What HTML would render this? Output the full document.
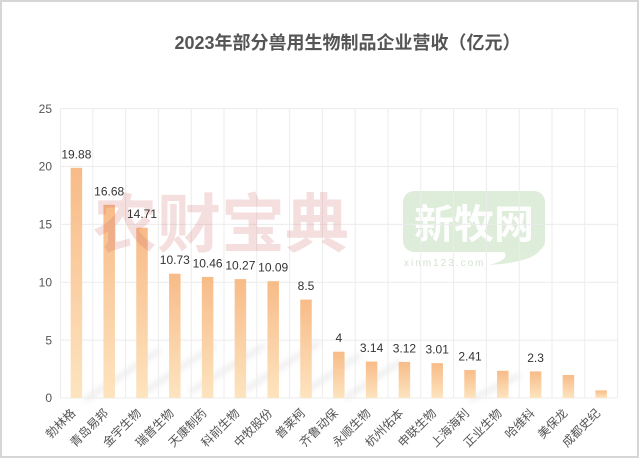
<!DOCTYPE html>
<html>
<head>
<meta charset="utf-8">
<style>
  html,body{margin:0;padding:0;background:#fff;}
  svg{display:block;}
  .cjk{font-family:"Liberation Sans","Noto Sans CJK SC",sans-serif;}
</style>
</head>
<body>
<svg width="640" height="459" viewBox="0 0 640 459" xmlns="http://www.w3.org/2000/svg">
  <defs>
    <linearGradient id="bar" x1="0" y1="0" x2="0" y2="1">
      <stop offset="0" stop-color="#f8bb88"/>
      <stop offset="1" stop-color="#fde4bf"/>
    </linearGradient>
    <filter id="blur" x="-20%" y="-20%" width="140%" height="140%">
      <feGaussianBlur stdDeviation="3"/>
    </filter>
  </defs>
  <rect x="0" y="0" width="640" height="459" fill="#fff"/>
  <rect x="1" y="1" width="637" height="456" fill="none" stroke="#d6d6d6" stroke-width="2"/>

  <!-- title -->
  <text x="347.5" y="49" text-anchor="middle" class="cjk" font-size="18" font-weight="bold" fill="#555">2023年部分兽用生物制品企业营收（亿元）</text>

  <!-- green watermark -->
  <g opacity="0.6">
    <rect x="403" y="191" width="142" height="61" rx="11" fill="#c9e2c2"/>
    <path d="M503,251 L541,248 Q536,262 489,265 Q512,259 503,251 Z" fill="#c9e2c2"/>
  </g>
  <text x="414" y="238" class="cjk" font-size="40" font-weight="bold" fill="#ffffff" opacity="0.95">新牧网</text>
  <text x="404" y="266" font-family="Liberation Sans, sans-serif" font-size="10" letter-spacing="2" fill="#d5e3d2">xinm123.com</text>

  <!-- diagonal shadows -->
  <g stroke="#9a9a9a" stroke-width="5" opacity="0.18" filter="url(#blur)">
    <line x1="85" y1="400" x2="160" y2="350"/>
    <line x1="140" y1="395" x2="215" y2="345"/>
    <line x1="190" y1="392" x2="265" y2="345"/>
    <line x1="245" y1="390" x2="320" y2="342"/>
    <line x1="300" y1="395" x2="360" y2="355"/>
    <line x1="345" y1="398" x2="400" y2="362"/>
    <line x1="470" y1="400" x2="520" y2="375"/>
  </g>

  <!-- gridlines -->
  <g stroke="#ececec" stroke-width="1">
    <line x1="60" y1="108.6" x2="617.6" y2="108.6"/>
    <line x1="60" y1="166.5" x2="617.6" y2="166.5"/>
    <line x1="60" y1="224.4" x2="617.6" y2="224.4"/>
    <line x1="60" y1="282.2" x2="617.6" y2="282.2"/>
    <line x1="60" y1="340.1" x2="617.6" y2="340.1"/>
    <line x1="60" y1="398" x2="617.6" y2="398"/>
    <line x1="60.5" y1="108.6" x2="60.5" y2="398"/>
    <line x1="92.8" y1="108.6" x2="92.8" y2="398"/>
    <line x1="125.6" y1="108.6" x2="125.6" y2="398"/>
    <line x1="158.4" y1="108.6" x2="158.4" y2="398"/>
    <line x1="191.2" y1="108.6" x2="191.2" y2="398"/>
    <line x1="224" y1="108.6" x2="224" y2="398"/>
    <line x1="256.8" y1="108.6" x2="256.8" y2="398"/>
    <line x1="289.6" y1="108.6" x2="289.6" y2="398"/>
    <line x1="322.4" y1="108.6" x2="322.4" y2="398"/>
    <line x1="355.2" y1="108.6" x2="355.2" y2="398"/>
    <line x1="388" y1="108.6" x2="388" y2="398"/>
    <line x1="420.8" y1="108.6" x2="420.8" y2="398"/>
    <line x1="453.6" y1="108.6" x2="453.6" y2="398"/>
    <line x1="486.4" y1="108.6" x2="486.4" y2="398"/>
    <line x1="519.2" y1="108.6" x2="519.2" y2="398"/>
    <line x1="552" y1="108.6" x2="552" y2="398"/>
    <line x1="584.8" y1="108.6" x2="584.8" y2="398"/>
    <line x1="617.6" y1="108.6" x2="617.6" y2="398"/>
  </g>

  <!-- y axis labels -->
  <g font-family="Liberation Sans, sans-serif" font-size="12" fill="#555" text-anchor="end">
    <text x="52" y="112.8">25</text>
    <text x="52" y="170.7">20</text>
    <text x="52" y="228.6">15</text>
    <text x="52" y="286.4">10</text>
    <text x="52" y="344.3">5</text>
    <text x="52" y="402.2">0</text>
  </g>

  <!-- bars -->
  <g fill="url(#bar)">
    <rect x="70.65" y="167.8" width="11.5" height="230.2"/>
    <rect x="103.45" y="204.8" width="11.5" height="193.2"/>
    <rect x="136.25" y="227.7" width="11.5" height="170.3"/>
    <rect x="169.05" y="273.7" width="11.5" height="124.3"/>
    <rect x="201.85" y="276.9" width="11.5" height="121.1"/>
    <rect x="234.65" y="279.1" width="11.5" height="118.9"/>
    <rect x="267.45" y="281.2" width="11.5" height="116.8"/>
    <rect x="300.25" y="299.6" width="11.5" height="98.4"/>
    <rect x="333.05" y="351.7" width="11.5" height="46.3"/>
    <rect x="365.85" y="361.6" width="11.5" height="36.4"/>
    <rect x="398.65" y="361.9" width="11.5" height="36.1"/>
    <rect x="431.45" y="363.1" width="11.5" height="34.9"/>
    <rect x="464.25" y="370.1" width="11.5" height="27.9"/>
    <rect x="497.05" y="370.8" width="11.5" height="27.2"/>
    <rect x="529.85" y="371.4" width="11.5" height="26.6"/>
    <rect x="562.65" y="375.0" width="11.5" height="23.0"/>
    <rect x="595.45" y="390.4" width="11.5" height="7.6"/>
  </g>

  <!-- pink watermark -->
  <text x="93" y="247" class="cjk" font-size="64" font-weight="bold" fill="#cf6b6b" opacity="0.22">农财宝典</text>

  <!-- value labels -->
  <g font-family="Liberation Sans, sans-serif" font-size="12" fill="#333" text-anchor="middle">
    <text x="76.4" y="158.3">19.88</text>
    <text x="109.2" y="195.3">16.68</text>
    <text x="142" y="218.2">14.71</text>
    <text x="174.8" y="264.2">10.73</text>
    <text x="207.6" y="267.4">10.46</text>
    <text x="240.4" y="269.6">10.27</text>
    <text x="273.2" y="271.7">10.09</text>
    <text x="306" y="290.1">8.5</text>
    <text x="338.8" y="342.2">4</text>
    <text x="371.6" y="352.1">3.14</text>
    <text x="404.4" y="352.4">3.12</text>
    <text x="437.2" y="353.6">3.01</text>
    <text x="470" y="360.6">2.41</text>
    <text x="535.6" y="361.9">2.3</text>
  </g>

  <!-- category labels -->
  <g class="cjk" font-size="12" fill="#555" text-anchor="end" dominant-baseline="central">
    <text transform="translate(73.4,411) rotate(-45)">勃林格</text>
    <text transform="translate(106.2,411) rotate(-45)">青岛易邦</text>
    <text transform="translate(139,411) rotate(-45)">金宇生物</text>
    <text transform="translate(171.8,411) rotate(-45)">瑞普生物</text>
    <text transform="translate(204.6,411) rotate(-45)">天康制药</text>
    <text transform="translate(237.4,411) rotate(-45)">科前生物</text>
    <text transform="translate(270.2,411) rotate(-45)">中牧股份</text>
    <text transform="translate(303,411) rotate(-45)">普莱柯</text>
    <text transform="translate(335.8,411) rotate(-45)">齐鲁动保</text>
    <text transform="translate(368.6,411) rotate(-45)">永顺生物</text>
    <text transform="translate(401.4,411) rotate(-45)">杭州佑本</text>
    <text transform="translate(434.2,411) rotate(-45)">申联生物</text>
    <text transform="translate(467,411) rotate(-45)">上海海利</text>
    <text transform="translate(499.8,411) rotate(-45)">正业生物</text>
    <text transform="translate(532.6,411) rotate(-45)">哈维科</text>
    <text transform="translate(565.4,411) rotate(-45)">美保龙</text>
    <text transform="translate(598.2,411) rotate(-45)">成都史纪</text>
  </g>
</svg>
</body>
</html>
